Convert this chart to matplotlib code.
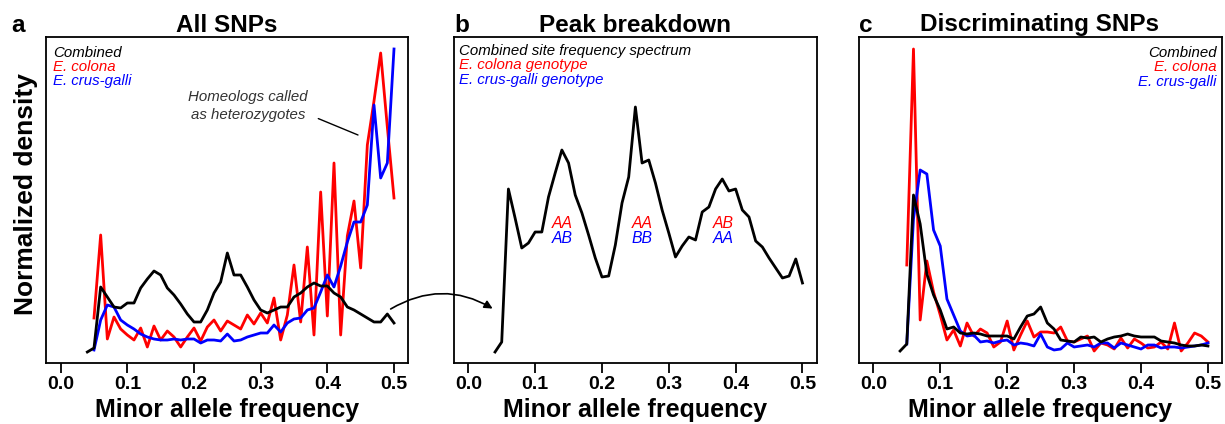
import matplotlib
matplotlib.use("Agg")
import matplotlib.pyplot as plt
from matplotlib.patches import ConnectionPatch

# ---------------- data (heights, arbitrary density units) ----------------
maf = [0.04, 0.05, 0.06, 0.07, 0.08, 0.09, 0.10, 0.11, 0.12, 0.13, 0.14, 0.15,
       0.16, 0.17, 0.18, 0.19, 0.20, 0.21, 0.22, 0.23, 0.24, 0.25, 0.26, 0.27,
       0.28, 0.29, 0.30, 0.31, 0.32, 0.33, 0.34, 0.35, 0.36, 0.37, 0.38, 0.39,
       0.40, 0.41, 0.42, 0.43, 0.44, 0.45, 0.46, 0.47, 0.48, 0.49, 0.50]
maf_sp = maf[1:]  # species series start at 0.05

# Panel a: all SNPs
a_combined = [10, 14, 75, 65, 55, 54, 59, 59, 74, 83, 91, 87, 74, 67, 58, 48, 40, 40,
              52, 69, 80, 109, 87, 87, 75, 62, 52, 49, 52, 55, 55, 65, 69, 75, 79, 76,
              76, 69, 65, 55, 52, 48, 44, 40, 40, 48, 39]
a_colona = [44, 127, 23, 45, 33, 27, 22, 34, 15, 36, 22, 31, 25, 15, 25, 34, 21, 35,
            42, 31, 41, 37, 33, 47, 38, 49, 39, 64, 22, 47, 97, 40, 115, 27, 170, 46,
            199, 27, 126, 161, 94, 217, 261, 309, 235, 164]
a_crusgalli = [12, 42, 57, 55, 42, 37, 33, 28, 25, 23, 22, 22, 23, 22, 23, 23, 19, 22,
               22, 21, 28, 21, 22, 25, 27, 29, 29, 37, 30, 39, 43, 44, 52, 54, 70, 87,
               75, 96, 120, 140, 140, 157, 257, 184, 199, 313]

# Panel b: combined site frequency spectrum
b_combined = [10, 20, 173, 144, 114, 119, 130, 130, 165, 189, 212, 199, 167, 149, 127,
              104, 85, 86, 117, 159, 185, 255, 199, 202, 179, 152, 129, 105, 116, 125,
              122, 150, 155, 173, 183, 171, 173, 152, 145, 121, 115, 104, 94, 84, 86,
              103, 79]
b_labels_x = [0.141, 0.26, 0.381]
b_labels_colona = ["AA", "AA", "AB"]
b_labels_crusgalli = ["AB", "BB", "AA"]

# Panel c: discriminating SNPs
c_combined = [11, 18, 167, 138, 88, 67, 52, 33, 35, 29, 28, 29, 28, 26, 26, 26, 26, 23,
              35, 46, 48, 55, 39, 33, 22, 21, 20, 25, 24, 25, 20, 23, 25, 26, 28, 26,
              25, 25, 25, 21, 20, 19, 17, 16, 16, 17, 16]
c_colona = [97, 313, 42, 101, 70, 47, 22, 32, 16, 39, 26, 33, 29, 15, 20, 41, 12, 27,
            41, 25, 30, 30, 29, 35, 21, 20, 23, 26, 11, 19, 17, 13, 24, 14, 23, 19, 14,
            15, 20, 13, 39, 11, 19, 29, 26, 20]
c_crusgalli = [18, 143, 192, 188, 132, 116, 63, 47, 31, 26, 27, 20, 21, 19, 21, 22, 17,
               19, 18, 16, 28, 15, 12, 13, 19, 15, 16, 17, 15, 19, 19, 14, 19, 17, 15,
               13, 17, 17, 14, 15, 15, 14, 15, 16, 17, 19]

xticks = [0.0, 0.1, 0.2, 0.3, 0.4, 0.5]
xtick_labels = ["0.0", "0.1", "0.2", "0.3", "0.4", "0.5"]
titles = ["All SNPs", "Peak breakdown", "Discriminating SNPs"]
letters = ["a", "b", "c"]

# ---------------- style ----------------
plt.rcParams["font.family"] = ["Liberation Sans", "DejaVu Sans"]

W, H = 1225, 424
fig = plt.figure(figsize=(W / 100, H / 100), dpi=100)
fig.patch.set_facecolor("white")


def px(x, y):
    return x / W, 1 - y / H


XLIM = (-0.022, 0.521)
YLIM = (-0.5, 325)
TOP, BOT = 37, 362.5
panels = [(46, 408), (453.6, 816.5), (858.6, 1222)]
axes = []
for (l, r) in panels:
    ax = fig.add_axes([l / W, 1 - BOT / H, (r - l) / W, (BOT - TOP) / H])
    ax.set_xlim(*XLIM)
    ax.set_ylim(*YLIM)
    ax.set_yticks([])
    ax.set_xticks(xticks)
    ax.set_xticklabels(xtick_labels, fontweight="bold", fontsize=14)
    ax.tick_params(axis="x", direction="out", length=7, width=1.3, pad=3, colors="black")
    for s in ax.spines.values():
        s.set_linewidth(1.3)
    ax.set_xlabel("Minor allele frequency", fontweight="bold", fontsize=18, labelpad=3)
    axes.append(ax)

LW = 2.0
axa, axb, axc = axes
axa.plot(maf_sp, a_colona, color="red", lw=LW, zorder=2)
axa.plot(maf_sp, a_crusgalli, color="blue", lw=LW, zorder=3)
axa.plot(maf, a_combined, color="black", lw=LW, zorder=4)

axb.plot(maf, b_combined, color="black", lw=LW)

axc.plot(maf_sp, c_colona, color="red", lw=LW, zorder=2)
axc.plot(maf_sp, c_crusgalli, color="blue", lw=LW, zorder=3)
axc.plot(maf, c_combined, color="black", lw=LW, zorder=4)

# y label
fig.text(*px(33.5, 194), "Normalized density", rotation=90, rotation_mode="anchor",
         ha="center", va="baseline", fontweight="bold", fontsize=19)

# titles and letters
centers = [227, 635, 1040]
for i in range(3):
    fig.text(*px(centers[i], 31.5), titles[i], ha="center", va="baseline",
             fontweight="bold", fontsize=17.5)
letter_x = [18, 462, 866]
for i in range(3):
    fig.text(*px(letter_x[i], 31.5), letters[i], ha="center", va="baseline",
             fontweight="bold", fontsize=17.5)

FS = 10.8
# legend a
for j, (t, c) in enumerate([("Combined", "black"), ("E. colona", "red"),
                            ("E. crus-galli", "blue")]):
    axa.text(0.02, 0.952 - j * 0.044, t, transform=axa.transAxes, color=c,
             style="italic", fontsize=FS, ha="left", va="center")
# legend b
for j, (t, c) in enumerate([("Combined site frequency spectrum", "black"),
                            ("E. colona genotype", "red"),
                            ("E. crus-galli genotype", "blue")]):
    axb.text(0.016, 0.958 - j * 0.045, t, transform=axb.transAxes, color=c,
             style="italic", fontsize=FS, ha="left", va="center")
# legend c
for j, (t, c) in enumerate([("Combined", "black"), ("E. colona", "red"),
                            ("E. crus-galli", "blue")]):
    axc.text(0.985, 0.952 - j * 0.045, t, transform=axc.transAxes, color=c,
             style="italic", fontsize=FS, ha="right", va="center")

# genotype labels in b
for xx, t1, t2 in zip(b_labels_x, b_labels_colona, b_labels_crusgalli):
    axb.text(xx, 139, t1, color="red", style="italic", fontsize=FS + 0.5,
             ha="center", va="center")
    axb.text(xx, 124, t2, color="blue", style="italic", fontsize=FS + 0.5,
             ha="center", va="center")

# annotation in a
axa.annotate("Homeologs called\nas heterozygotes", xy=(0.446, 227), xytext=(0.281, 256),
             ha="center", va="center", style="italic", fontsize=FS, color="#333333",
             linespacing=1.45,
             arrowprops=dict(arrowstyle="-", color="black", lw=1.0,
                             relpos=(1.0, 0.25), shrinkA=6, shrinkB=0))

# curved arrow from a to b
con = ConnectionPatch(xyA=(0.495, 53), coordsA=axa.transData,
                      xyB=(0.040, 52), coordsB=axb.transData,
                      arrowstyle="-|>", connectionstyle="arc3,rad=-0.3",
                      mutation_scale=12, lw=1.2, color="black", shrinkB=2)
fig.add_artist(con)

fig.savefig("out.png", dpi=100, facecolor="white")
